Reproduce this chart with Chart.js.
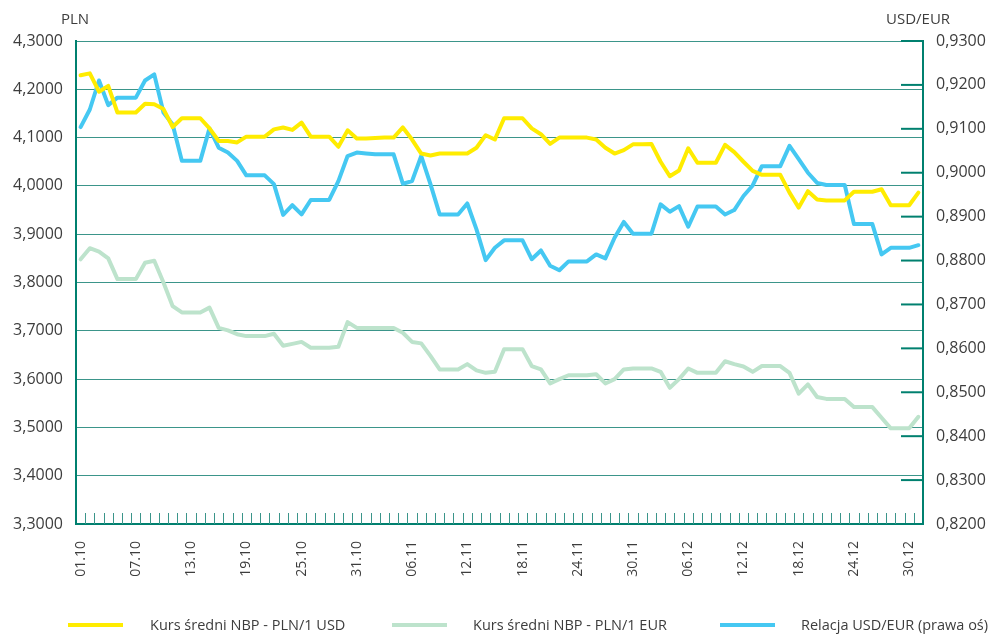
<!doctype html>
<html lang="pl">
<head>
<meta charset="utf-8">
<title>Kursy PLN/USD, PLN/EUR i USD/EUR</title>
<script src="https://cdn.jsdelivr.net/npm/chart.js@4.4.1/dist/chart.umd.min.js"></script>
<style>
    body { margin: 0; background: #fff; }
    #wrap { position: relative; width: 992px; height: 636px; }
    .leg { position: absolute; top: 614px; height: 22px; font: 14.5px "Open Sans", sans-serif; color: #3d3d3d; white-space: nowrap; }
    .leg i { position: absolute; top: 9px; width: 55px; height: 4px; }
    .leg span { position: absolute; top: 0; line-height: 22px; }
</style>
</head>
<body>
<div id="wrap">
    <canvas id="chart" width="992" height="636"></canvas>
    <div class="leg" style="left:68px"><i style="left:0;background:#ffec00"></i><span style="left:82px">Kurs średni NBP - PLN/1 USD</span></div>
    <div class="leg" style="left:392px"><i style="left:0;background:#bde3cc"></i><span style="left:81px">Kurs średni NBP - PLN/1 EUR</span></div>
    <div class="leg" style="left:720px"><i style="left:0;background:#45c8f2"></i><span style="left:81px">Relacja USD/EUR (prawa oś)</span></div>
</div>

<script>
    // dni od 01.10 do 31.12
    const months = [['10', 31], ['11', 30], ['12', 31]];
    const days = [];
    months.forEach(([m, n]) => {
        for (let d = 1; d <= n; d++) days.push(String(d).padStart(2, '0') + '.' + m);
    });

    const plnUsd = [
        4.229, 4.233, 4.195, 4.207, 4.152, 4.152, 4.152, 4.170, 4.169, 4.159,
        4.122, 4.140, 4.140, 4.140, 4.119, 4.093, 4.093, 4.090, 4.102, 4.102,
        4.102, 4.117, 4.121, 4.116, 4.131, 4.102, 4.102, 4.102, 4.081, 4.115,
        4.098, 4.098, 4.099, 4.100, 4.100, 4.121, 4.096, 4.067, 4.063, 4.067,
        4.067, 4.067, 4.067, 4.079, 4.105, 4.096, 4.140, 4.140, 4.140, 4.119,
        4.107, 4.087, 4.100, 4.100, 4.100, 4.100, 4.096, 4.079, 4.067, 4.074,
        4.086, 4.086, 4.087, 4.050, 4.020, 4.032, 4.078, 4.048, 4.048, 4.048,
        4.085, 4.070, 4.050, 4.031, 4.023, 4.023, 4.023, 3.986, 3.955, 3.989,
        3.972, 3.970, 3.970, 3.970, 3.988, 3.988, 3.988, 3.993, 3.960, 3.960,
        3.960, 3.986
    ];

    const plnEur = [
        3.848, 3.871, 3.864, 3.850, 3.807, 3.807, 3.807, 3.841, 3.845, 3.800,
        3.751, 3.738, 3.738, 3.738, 3.748, 3.706, 3.701, 3.693, 3.689, 3.689,
        3.689, 3.694, 3.669, 3.673, 3.677, 3.665, 3.665, 3.665, 3.667, 3.718,
        3.706, 3.706, 3.706, 3.706, 3.706, 3.696, 3.677, 3.674, 3.648, 3.620,
        3.620, 3.620, 3.631, 3.618, 3.613, 3.615, 3.662, 3.662, 3.662, 3.627,
        3.620, 3.591, 3.600, 3.608, 3.608, 3.608, 3.610, 3.591, 3.600, 3.620,
        3.622, 3.622, 3.622, 3.615, 3.582, 3.600, 3.622, 3.613, 3.613, 3.613,
        3.637, 3.631, 3.626, 3.615, 3.627, 3.627, 3.627, 3.613, 3.570, 3.589,
        3.563, 3.559, 3.559, 3.559, 3.542, 3.542, 3.542, 3.520, 3.498, 3.498,
        3.498, 3.522
    ];

    const usdEur = [
        0.9104, 0.9144, 0.9210, 0.9154, 0.9171, 0.9171, 0.9171, 0.9210, 0.9224, 0.9137,
        0.9110, 0.9027, 0.9027, 0.9027, 0.9101, 0.9057, 0.9046, 0.9027, 0.8994, 0.8994,
        0.8994, 0.8974, 0.8904, 0.8926, 0.8905, 0.8938, 0.8938, 0.8938, 0.8981, 0.9038,
        0.9046, 0.9044, 0.9042, 0.9042, 0.9042, 0.8975, 0.8981, 0.9038, 0.8974, 0.8905,
        0.8905, 0.8905, 0.8930, 0.8871, 0.8801, 0.8829, 0.8846, 0.8846, 0.8846, 0.8803,
        0.8823, 0.8788, 0.8778, 0.8798, 0.8798, 0.8798, 0.8814, 0.8805, 0.8852, 0.8888,
        0.8861, 0.8861, 0.8861, 0.8928, 0.8911, 0.8924, 0.8877, 0.8923, 0.8923, 0.8923,
        0.8905, 0.8915, 0.8947, 0.8971, 0.9015, 0.9015, 0.9015, 0.9061, 0.9031, 0.9000,
        0.8977, 0.8972, 0.8972, 0.8972, 0.8883, 0.8883, 0.8883, 0.8814, 0.8829, 0.8829,
        0.8829, 0.8835
    ];

    const teal = '#00806f';
    const gridTeal = '#3b958a';

    const comma = (v) => v.toFixed(4).replace('.', ',');

    // kreski na osi X (między dniami), kreski prawej osi i opisy osi
    const axisMarks = {
        id: 'axisMarks',
        beforeDatasetsDraw(chart) {
            const {ctx, chartArea: a, scales: {x, y1}} = chart;
            ctx.save();
            ctx.strokeStyle = gridTeal;
            ctx.lineWidth = 1;
            for (let i = 0; i < days.length - 1; i++) {
                const px = Math.round((x.getPixelForValue(i) + x.getPixelForValue(i + 1)) / 2) + 0.5;
                ctx.beginPath();
                ctx.moveTo(px, a.bottom - 11);
                ctx.lineTo(px, a.bottom);
                ctx.stroke();
            }
            ctx.strokeStyle = teal;
            ctx.lineWidth = 2;
            y1.ticks.forEach((t) => {
                const py = y1.getPixelForValue(t.value);
                ctx.beginPath();
                ctx.moveTo(a.right - 22, py);
                ctx.lineTo(a.right, py);
                ctx.stroke();
            });
            ctx.restore();
        },
        afterDraw(chart) {
            const {ctx} = chart;
            ctx.save();
            ctx.fillStyle = '#3d3d3d';
            ctx.font = '15px "Open Sans", sans-serif';
            ctx.textBaseline = 'middle';
            ctx.fillText('PLN', 61, 20);
            ctx.fillText('USD/EUR', 886, 20);
            ctx.restore();
        }
    };

    new Chart(document.getElementById('chart'), {
        type: 'line',
        data: {
            labels: days,
            datasets: [
                {
                    label: 'Kurs średni NBP - PLN/1 USD',
                    data: plnUsd,
                    borderColor: '#ffec00',
                    yAxisID: 'y',
                },
                {
                    label: 'Relacja USD/EUR (prawa oś)',
                    data: usdEur,
                    borderColor: '#45c8f2',
                    yAxisID: 'y1',
                },
                {
                    label: 'Kurs średni NBP - PLN/1 EUR',
                    data: plnEur,
                    borderColor: '#bde3cc',
                    yAxisID: 'y',
                },
            ],
        },
        options: {
            responsive: false,
            animation: false,
            layout: {padding: {top: 41, left: 0, right: 0, bottom: 0}},
            elements: {
                line: {borderWidth: 4, tension: 0, borderJoinStyle: 'round', borderCapStyle: 'round'},
                point: {radius: 0},
            },
            font: {family: '"Open Sans", sans-serif'},
            plugins: {
                legend: {display: false},
                tooltip: {enabled: false},
            },
            scales: {
                x: {
                    offset: true,
                    grid: {display: false, drawTicks: false},
                    border: {color: teal, width: 2},
                    afterFit: (s) => { s.height = 112; },
                    ticks: {
                        autoSkip: false,
                        maxRotation: 90,
                        minRotation: 90,
                        padding: 17,
                        color: '#3d3d3d',
                        font: {family: '"Open Sans", sans-serif', size: 14},
                        callback: (v, i) => (i % 6 === 0 ? days[i] : ''),
                    },
                },
                y: {
                    position: 'left',
                    min: 3.3,
                    max: 4.3,
                    grid: {color: gridTeal, lineWidth: 1, drawTicks: false},
                    border: {color: teal, width: 2},
                    afterFit: (s) => { s.width = 76; },
                    ticks: {
                        stepSize: 0.1,
                        padding: 13,
                        color: '#3d3d3d',
                        font: {family: '"Open Sans", sans-serif', size: 16},
                        callback: (v) => comma(v),
                    },
                },
                y1: {
                    position: 'right',
                    min: 0.82,
                    max: 0.93,
                    grid: {drawOnChartArea: false, drawTicks: false},
                    border: {color: teal, width: 2},
                    afterFit: (s) => { s.width = 69; },
                    ticks: {
                        stepSize: 0.01,
                        padding: 13,
                        color: '#3d3d3d',
                        font: {family: '"Open Sans", sans-serif', size: 16},
                        callback: (v) => comma(v),
                    },
                },
            },
        },
        plugins: [axisMarks],
    });
</script>
</body>
</html>
